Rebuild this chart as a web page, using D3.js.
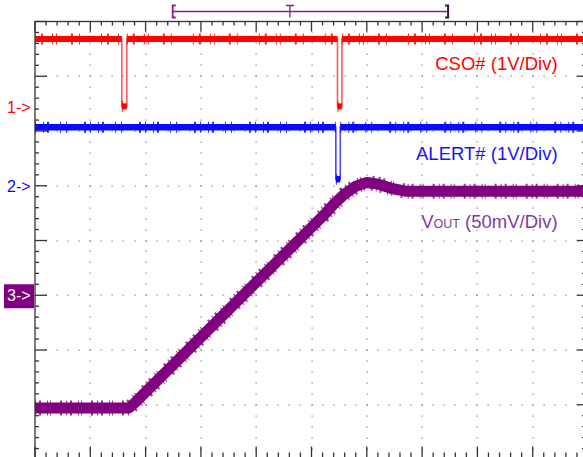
<!DOCTYPE html>
<html>
<head>
<meta charset="utf-8">
<script src="https://cdn.jsdelivr.net/npm/d3@7"></script>
<style>
    body { margin: 0; background: #fff; }
    svg { display: block; font-family: "Liberation Sans", Arial, sans-serif; }
</style>
</head>
<body>
<div id="scope"></div>
<script>
// screen is 10 x 8 divisions, time in div from left edge, level in div from centre
const divX = [0, 1, 2, 3, 4, 5, 6, 7, 8, 9, 10]
const divY = [-4, -3, -2, -1, 0, 1, 2, 3, 4]

// CH1  CSO#  (1V/Div)
const csoTime = [0, 1.57, 1.57, 1.66, 1.66, 5.47, 5.47, 5.55, 5.55, 10]
const csoLevel = [3.68, 3.68, 2.45, 2.45, 3.68, 3.68, 2.45, 2.45, 3.68, 3.68]

// CH2  ALERT#  (1V/Div)
const alertTime = [0, 5.44, 5.44, 5.52, 5.52, 10]
const alertLevel = [2.07, 2.07, 1.12, 1.12, 2.07, 2.07]

// CH3  VOUT  (50mV/Div)
const voutTime = [0, 1.7, 1.82, 5.2, 5.4, 5.6, 5.8, 6.0, 6.2, 6.45, 6.7, 10]
const voutLevel = [-3.06, -3.06, -2.95, 0.44, 0.66, 0.85, 0.99, 1.06, 1.03, 0.95, 0.9, 0.9]

// channel ground markers (div)
const markerNames = ['1->', '2->', '3->']
const markerLevels = [2.43, 1.0, -1.0]

// trigger bracket / position (div)
const triggerSpan = [2.49, 7.47]
const triggerPos = 4.61

const width = 583, height = 457
const svg = d3.select('#scope').append('svg')
    .attr('width', width)
    .attr('height', height)

const x = d3.scaleLinear().domain([0, 10]).range([35, 588])
const y = d3.scaleLinear().domain([-4, 4]).range([459.5, 21.5])

//Draw grid dots
const minor = d3.range(0, 50.5).map((i) => i * 0.2)
const minorY = d3.range(0, 40.5).map((i) => -4 + i * 0.2)
const grid = svg.append('g').attr('fill', '#7a7a7a')
divX.slice(1, -1).forEach(function (t) {
    grid.selectAll(null)
        .data(minorY.slice(1, -1))
        .enter().append('rect')
        .attr('x', Math.round(x(t)) - 0.5)
        .attr('y', (d) => Math.round(y(d)) - 0.5)
        .attr('width', 1.2)
        .attr('height', 1.2)
})
divY.slice(1, -1).forEach(function (v) {
    grid.selectAll(null)
        .data(minor.slice(1, -1))
        .enter().append('rect')
        .attr('x', (d) => Math.round(x(d)) - 0.5)
        .attr('y', Math.round(y(v)) - 0.5)
        .attr('width', 1.2)
        .attr('height', 1.2)
})
//End Draw grid

//Border + ticks
const frame = svg.append('g').attr('stroke', '#333').attr('stroke-width', 1.3)
frame.append('rect')
    .attr('x', x(0)).attr('y', y(4))
    .attr('width', x(10) - x(0)).attr('height', y(-4) - y(4))
    .attr('fill', 'none')
const isMajor = (d) => Math.abs(d - Math.round(d)) < 0.01
frame.selectAll('.tt').data(minor).enter().append('line')
    .attr('x1', (d) => x(d)).attr('x2', (d) => x(d))
    .attr('y1', y(4)).attr('y2', (d) => y(4) + (isMajor(d) ? 10 : 4))
frame.selectAll('.tb').data(minor).enter().append('line')
    .attr('x1', (d) => x(d)).attr('x2', (d) => x(d))
    .attr('y1', y(-4)).attr('y2', (d) => y(-4) - (isMajor(d) ? 13 : 7))
frame.selectAll('.tl').data(minorY).enter().append('line')
    .attr('x1', x(0)).attr('x2', (d) => x(0) + (isMajor(d) ? 12 : 4))
    .attr('y1', (d) => y(d)).attr('y2', (d) => y(d))
frame.selectAll('.tr').data(minorY).enter().append('line')
    .attr('x1', x(10)).attr('x2', (d) => x(10) - (isMajor(d) ? 11 : 6))
    .attr('y1', (d) => y(d)).attr('y2', (d) => y(d))
//End border

//Trigger bracket
const trig = svg.append('g').attr('stroke', '#8a1a8a').attr('fill', 'none').attr('stroke-width', 1.3)
trig.append('line')
    .attr('x1', x(triggerSpan[0])).attr('x2', x(triggerSpan[1]))
    .attr('y1', 11.5).attr('y2', 11.5)
trig.append('path')
    .attr('stroke-width', 1.8)
    .attr('d', `M${x(triggerSpan[0]) + 3},5.5 H${x(triggerSpan[0])} V17.5 H${x(triggerSpan[0]) + 3}`)
trig.append('path')
    .attr('stroke', '#3a103a').attr('stroke-width', 2)
    .attr('d', `M${x(triggerSpan[1]) - 3},5.5 H${x(triggerSpan[1])} V17.5 H${x(triggerSpan[1]) - 3}`)
trig.append('path')
    .attr('d', `M${x(triggerPos) - 4},5.5 H${x(triggerPos) + 4} M${x(triggerPos)},5.5 V17.5`)

//Traces
const line = d3.line().x((d) => x(d[0])).y((d) => y(d[1]))

function drawTrace(times, levels, color, edge, band, fuzz, dash) {
    const pts = times.map((t, i) => [t, levels[i]])
    const g = svg.append('g')
    // fast edges are thin
    g.append('path')
        .attr('d', line(pts))
        .attr('fill', 'none')
        .attr('stroke', edge)
        .attr('stroke-width', 1.6)
    // flat parts are a thick noisy band
    const flats = []
    for (let i = 0; i < pts.length - 1; i++) {
        if (pts[i][1] === pts[i + 1][1]) flats.push([pts[i], pts[i + 1]])
    }
    g.selectAll('.band').data(flats).enter().append('path')
        .attr('d', (d) => line(d))
        .attr('stroke', color)
        .attr('stroke-width', band)
    g.selectAll('.fuzz').data(flats).enter().append('path')
        .attr('d', (d) => line(d))
        .attr('stroke', color)
        .attr('stroke-width', fuzz)
        .attr('stroke-dasharray', dash)
        .attr('opacity', 0.85)
}

drawTrace(csoTime, csoLevel, '#ff0000', '#ff5a5a', 6, 11, '1 5 2 9 1 3 1 14 2 6 1 21')
drawTrace(alertTime, alertLevel, '#0a0aff', '#4a4aff', 6.5, 11, '1 7 1 3 2 11 1 5 1 17 2 4')

const vpts = voutTime.map((t, i) => [t, voutLevel[i]])
svg.append('path')
    .attr('d', line(vpts))
    .attr('fill', 'none')
    .attr('stroke', '#800080')
    .attr('stroke-width', 11)
    .attr('stroke-linejoin', 'round')
svg.append('path')
    .attr('d', line(vpts))
    .attr('fill', 'none')
    .attr('stroke', '#800080')
    .attr('stroke-width', 15)
    .attr('stroke-dasharray', '1 3 2 6 1 2 1 9 2 4')
    .attr('opacity', 0.8)
//End traces

//Channel markers
const markerColors = ['#ff0000', '#0a0aff', '#ffffff']
svg.append('rect')
    .attr('x', 4).attr('y', y(markerLevels[2]) - 11)
    .attr('width', 30).attr('height', 24)
    .attr('fill', '#800080')
svg.selectAll('.marker').data(markerNames).enter().append('text')
    .attr('x', 7)
    .attr('y', (d, i) => y(markerLevels[i]) + 6)
    .attr('font-size', 16)
    .attr('fill', (d, i) => markerColors[i])
    .text((d) => d)

//Channel labels
const labelX = x(9.45)
svg.append('text')
    .attr('x', labelX).attr('y', y(3.11))
    .attr('text-anchor', 'end').attr('font-size', 18.5)
    .attr('fill', '#ff0000')
    .text('CSO# (1V/Div)')
svg.append('text')
    .attr('x', labelX).attr('y', y(1.47))
    .attr('text-anchor', 'end').attr('font-size', 18.5)
    .attr('fill', '#1414ff')
    .text('ALERT# (1V/Div)')
const vlab = svg.append('text')
    .attr('x', labelX).attr('y', y(0.23))
    .attr('text-anchor', 'end').attr('font-size', 18.5)
    .attr('fill', '#7d3c9e')
vlab.append('tspan').text('V')
vlab.append('tspan').attr('font-size', 12.5).text('OUT')
vlab.append('tspan').text(' (50mV/Div)')
</script>
</body>
</html>
